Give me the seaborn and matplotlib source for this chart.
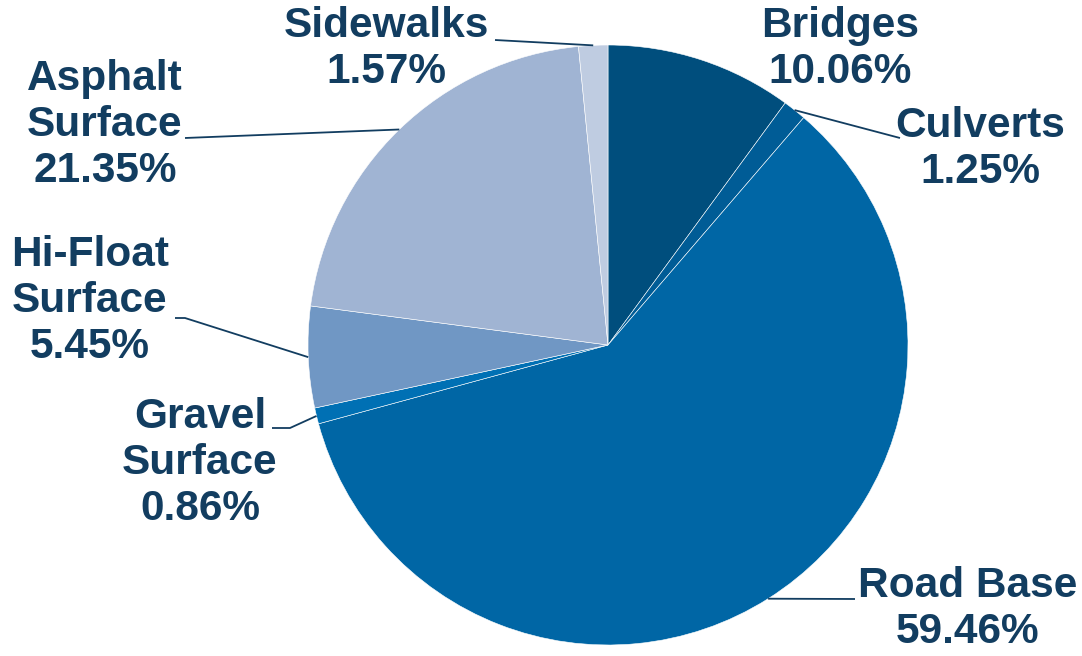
import numpy as np
import matplotlib
matplotlib.use("Agg")
import matplotlib.pyplot as plt
import seaborn as sns

sns.set_theme(style="white")
plt.rcParams['font.family'] = ['Liberation Sans', 'DejaVu Sans']

categories = ["Bridges", "Culverts", "Road Base", "Gravel\nSurface", "Hi-Float\nSurface",
              "Asphalt\nSurface", "Sidewalks"]
values = [10.06, 1.25, 59.46, 0.86, 5.45, 21.35, 1.57]
colors = ["#004e7d", "#005c96", "#0066a5", "#0070b4", "#7097c4", "#a0b4d3", "#bfcce1"]

W, H = 1082, 656
fig = plt.figure(figsize=(W / 100, H / 100), dpi=100)
ax = fig.add_axes([0, 0, 1, 1])

cx, cy, R = 608, H - 345, 300
ax.pie(values, colors=colors, startangle=90, counterclock=False,
       center=(cx, cy), radius=R, frame=True,
       wedgeprops=dict(edgecolor='white', linewidth=0.4))
ax.set_xlim(0, W)
ax.set_ylim(0, H)
ax.set_aspect('equal')
ax.axis('off')

txt_color = "#123d60"
# label anchor positions (pixel coords from top) and leader line path (intermediate points)
label_pos = [(840, 49), (980, 149), (968, 609), (200, 463), (90, 301), (105, 125), (386, 49)]
leader = [None,
          [(900, 138)],
          [(855, 599)],
          [(290, 428), (272, 428)],
          [(185, 318), (175, 318)],
          [(185, 138)],
          [(495, 40)]]

cum = np.cumsum([0] + values)
for i, (lab, v) in enumerate(zip(categories, values)):
    mid = (cum[i] + v / 2) / 100 * 360
    ang = np.deg2rad(mid)
    ex = cx + R * np.sin(ang)
    ey = cy + R * np.cos(ang)
    if leader[i] is not None:
        xs = [ex] + [p[0] for p in leader[i]]
        ys = [ey] + [H - p[1] for p in leader[i]]
        ax.plot(xs, ys, color=txt_color, lw=1.3, solid_capstyle='butt')
    lx, ly = label_pos[i]
    ax.text(lx, H - ly, f"{lab}\n{v:.2f}%", ha='center', va='center',
            multialignment='center', fontsize=30.5, fontweight='bold',
            color=txt_color, linespacing=1.2)

fig.savefig("out.png", dpi=100)
